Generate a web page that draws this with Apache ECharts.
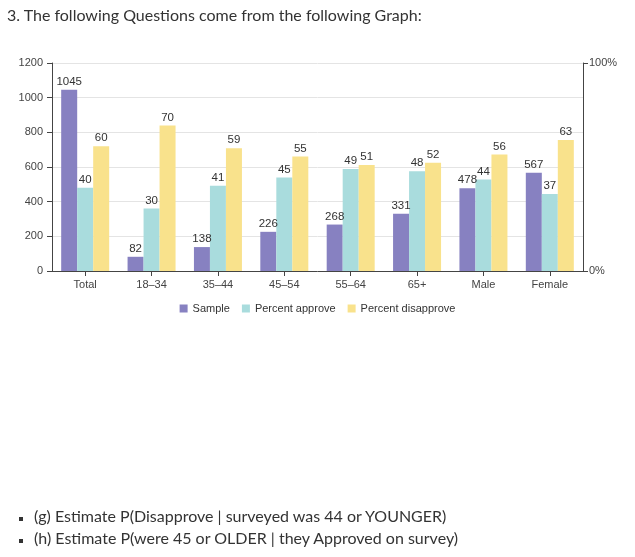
<!DOCTYPE html>
<html><head><meta charset="utf-8">
<script src="https://cdn.jsdelivr.net/npm/echarts@6/dist/echarts.min.js"></script>
<style>
html,body{margin:0;padding:0;background:#fff;}
#wrap{position:relative;width:635px;height:557px;overflow:hidden;}
#chart{position:absolute;left:0;top:0;width:635px;height:557px;}
.t{position:absolute;font-family:Lato,"Open Sans",sans-serif;color:#333;font-size:16px;white-space:nowrap;}
.b{position:absolute;width:4px;height:4px;background:#333;}
</style></head>
<body><div id="wrap">
<div id="chart"></div>
<div class="t" style="left:7px;top:5px;">3. The following Questions come from the following Graph:</div>
<div class="b" style="left:19px;top:517px;"></div>
<div class="t" style="left:34px;top:506px;">(g) Estimate P(Disapprove | surveyed was 44 or YOUNGER)</div>
<div class="b" style="left:19px;top:539px;"></div>
<div class="t" style="left:34px;top:528px;">(h) Estimate P(were 45 or OLDER | they Approved on survey)</div>
</div>
<script>
var categories = ['Total','18–34','35–44','45–54','55–64','65+','Male','Female'];
var sample = [1045,82,138,226,268,331,478,567];
var approve = [40,30,41,45,49,48,44,37];
var disapprove = [60,70,59,55,51,52,56,63];
var leftTicks = [0,200,400,600,800,1000,1200];
var rightTicks = ['0%','100%'];

var FF = '"Liberation Sans", Arial, sans-serif';
var chart = echarts.init(document.getElementById('chart'));
var lbl = {show:true,position:'top',distance:2,color:'#333',fontSize:11.5,fontFamily:FF};
chart.setOption({
  animation:false,
  textStyle:{fontFamily:FF},
  grid:{left:52,right:52,top:63,bottom:286,containLabel:false},
  legend:{top:298,left:'center',itemWidth:8,itemHeight:8,itemGap:12,icon:'rect',
    textStyle:{color:'#333',fontSize:11,fontFamily:FF},data:['Sample','Percent approve','Percent disapprove']},
  xAxis:{type:'category',data:categories,
    axisLine:{lineStyle:{color:'#444'}},
    axisTick:{show:true,alignWithLabel:true,length:5,lineStyle:{color:'#444'}},
    axisLabel:{color:'#444',fontSize:11,margin:8,fontFamily:FF}},
  yAxis:[
    {type:'value',min:leftTicks[0],max:leftTicks[leftTicks.length-1],interval:200,
     axisLine:{show:true,lineStyle:{color:'#444'}},
     axisTick:{show:true,length:5,lineStyle:{color:'#444'}},
     axisLabel:{color:'#444',fontSize:11,margin:9,fontFamily:FF,formatter:function(v){return String(v);}},
     splitLine:{lineStyle:{color:'#e4e4e4'}}},
    {type:'value',min:0,max:100,interval:100,position:'right',
     axisLine:{show:true,lineStyle:{color:'#444'}},
     axisTick:{show:true,inside:false,length:5,lineStyle:{color:'#444'}},
     axisLabel:{color:'#444',fontSize:11,margin:6,fontFamily:FF,formatter:function(v){return v===0?rightTicks[0]:rightTicks[1];}},
     splitLine:{show:false}}
  ],
  series:[
    {name:'Sample',type:'bar',data:sample,yAxisIndex:0,barWidth:16,barGap:'0%',
     itemStyle:{color:'#8781c1'},label:lbl},
    {name:'Percent approve',type:'bar',data:approve,yAxisIndex:1,barWidth:16,barGap:'0%',
     itemStyle:{color:'#a9dcdd'},label:lbl},
    {name:'Percent disapprove',type:'bar',data:disapprove,yAxisIndex:1,barWidth:16,barGap:'0%',
     itemStyle:{color:'#f9e28c'},label:lbl}
  ]
});
</script>
</body></html>
